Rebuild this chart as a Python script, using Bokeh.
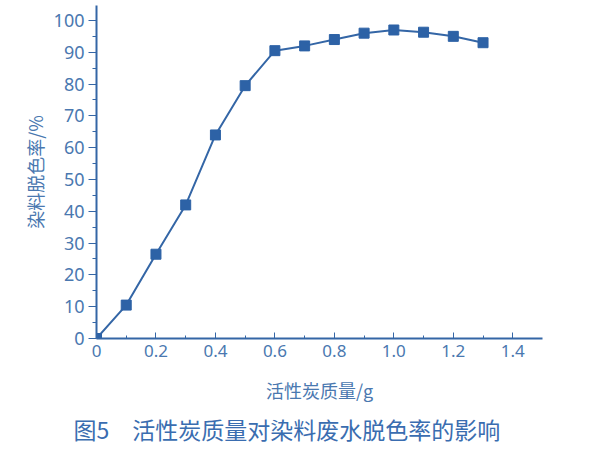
from bokeh.plotting import figure
from bokeh.models import Range1d, FixedTicker, Title
from bokeh.embed import file_html
from bokeh.resources import INLINE

mass = [0.0, 0.1, 0.2, 0.3, 0.4, 0.5, 0.6, 0.7, 0.8, 0.9, 1.0, 1.1, 1.2, 1.3]
decolor = [0.0, 10.5, 26.5, 42.0, 64.0, 79.5, 90.5, 92.0, 94.0, 96.0, 97.0, 96.3, 95.0, 93.0]
x_ticks = [0, 0.2, 0.4, 0.6, 0.8, 1.0, 1.2, 1.4]
x_tick_labels = {0: "0", 0.2: "0.2", 0.4: "0.4", 0.6: "0.6", 0.8: "0.8", 1.0: "1.0", 1.2: "1.2", 1.4: "1.4"}
y_ticks = [0, 10, 20, 30, 40, 50, 60, 70, 80, 90, 100]

BLUE = "#3466a6"
TEXT = "#4a78b0"
FONT = "Noto Sans CJK SC"

p = figure(width=592, height=450, output_backend="svg", toolbar_location=None,
           x_range=Range1d(0, 1.5), y_range=Range1d(0, 104.7),
           min_border_left=96, min_border_right=50, min_border_top=5, min_border_bottom=112)
p.outline_line_color = None
p.xgrid.visible = False
p.ygrid.visible = False

p.line(mass, decolor, line_color=BLUE, line_width=2)
p.scatter(mass, decolor, marker="square", size=10, fill_color="#2d62a6", line_color="#2d62a6")

xa = p.xaxis[0]
xa.ticker = FixedTicker(ticks=x_ticks, minor_ticks=[0.1, 0.3, 0.5, 0.7, 0.9, 1.1, 1.3])
xa.major_label_overrides = x_tick_labels
xa.axis_line_color = BLUE
xa.axis_line_width = 2
xa.major_tick_line_color = BLUE
xa.minor_tick_line_color = BLUE
xa.major_tick_in = 6
xa.major_tick_out = 0
xa.minor_tick_in = 3
xa.minor_tick_out = 0
xa.major_label_text_color = TEXT
xa.major_label_text_font = "Noto Sans"
xa.major_label_text_font_size = "17px"
xa.major_label_standoff = 6
xa.axis_label = "活性炭质量/g"
xa.axis_label_text_font = FONT
xa.axis_label_text_font_style = "normal"
xa.axis_label_text_font_size = "18px"
xa.axis_label_text_color = TEXT
xa.axis_label_standoff = 17

ya = p.yaxis[0]
ya.ticker = FixedTicker(ticks=y_ticks, minor_ticks=[5, 15, 25, 35, 45, 55, 65, 75, 85, 95])
ya.axis_line_color = BLUE
ya.axis_line_width = 2
ya.major_tick_line_color = BLUE
ya.minor_tick_line_color = BLUE
ya.major_tick_in = 0
ya.major_tick_out = 8
ya.minor_tick_in = 0
ya.minor_tick_out = 4
ya.major_label_text_color = TEXT
ya.major_label_text_font = "Noto Sans"
ya.major_label_text_font_size = "18px"
ya.major_label_standoff = 4
ya.axis_label = "染料脱色率/%"
ya.axis_label_text_font = FONT
ya.axis_label_text_font_style = "normal"
ya.axis_label_text_font_size = "18px"
ya.axis_label_text_color = TEXT
ya.axis_label_standoff = 3

cap = Title(text="图5\u3000活性炭质量对染料废水脱色率的影响", align="left",
            text_font=FONT, text_font_size="23px", text_color="#3a6db0",
            text_font_style="normal", offset=-23, standoff=8)
p.add_layout(cap, "below")

open("out.html", "w").write(file_html(p, INLINE))
